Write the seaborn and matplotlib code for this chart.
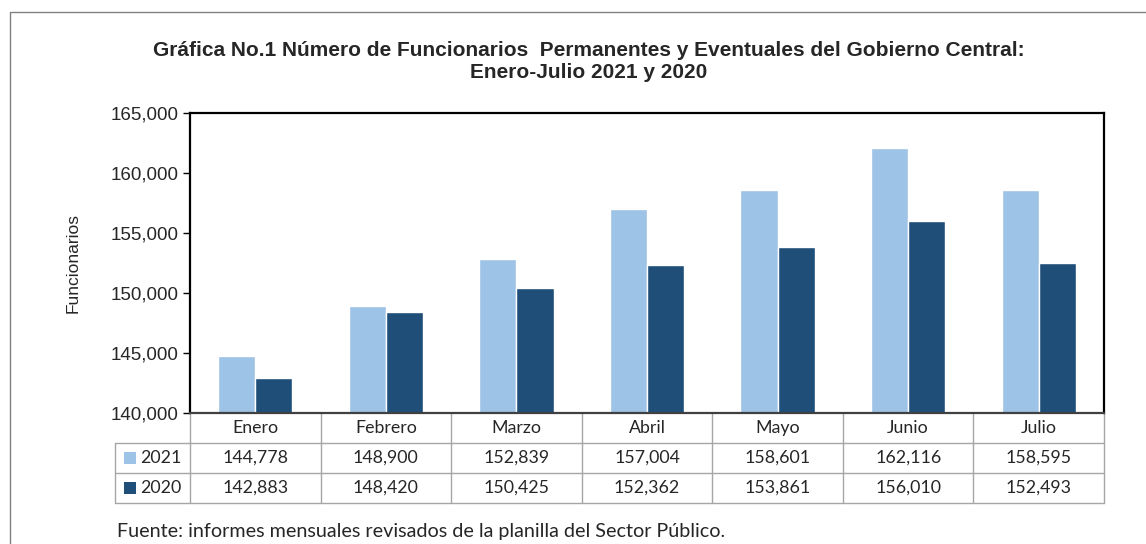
import pandas as pd
import numpy as np
import matplotlib
matplotlib.use("Agg")
import matplotlib.pyplot as plt
import matplotlib.transforms as mtransforms
from matplotlib.patches import Rectangle
import seaborn as sns

# Données
meses = ["Enero", "Febrero", "Marzo", "Abril", "Mayo", "Junio", "Julio"]
anios = ["2021", "2020"]
valores_2021 = [144778, 148900, 152839, 157004, 158601, 162116, 158595]
valores_2020 = [142883, 148420, 150425, 152362, 153861, 156010, 152493]
colores = ["#9DC3E6", "#1F4E79"]

data = pd.DataFrame({
    "mes": meses * 2,
    "anio": [anios[0]] * len(meses) + [anios[1]] * len(meses),
    "valor": valores_2021 + valores_2020,
})

sns.set_style("white")
plt.rcParams["font.family"] = ["Liberation Sans", "DejaVu Sans"]

fig = plt.figure(figsize=(11.46, 5.44), dpi=100)
ax = fig.add_axes([190 / 1146, 1 - 413 / 544, (1104 - 190) / 1146, (413 - 113) / 544])

sns.barplot(data=data, x="mes", y="valor", hue="anio", hue_order=anios,
            palette=colores, width=0.57, saturation=1, ax=ax, legend=False)

ax.set_ylim(140000, 165000)
ax.set_yticks(np.arange(140000, 165001, 5000))
ax.set_yticklabels([f"{v:,}" for v in range(140000, 165001, 5000)], fontsize=13.5)
ax.set_xlim(-0.5, len(meses) - 0.5)
ax.set_xticks([])
ax.set_xlabel("")
ax.set_ylabel("Funcionarios", fontsize=12.5, labelpad=22)
ax.tick_params(axis="y", length=5, width=1, color="black", left=True, pad=3)
for s in ax.spines.values():
    s.set_visible(True)
    s.set_color("black")
    s.set_linewidth(1.6)
ax.spines["bottom"].set_color("#404040")

# Tableau de données sous le graphique
trans = mtransforms.blended_transform_factory(ax.transData, ax.transAxes)
row_h = 30 / (413 - 113)
gris = "#A6A6A6"
fuente_tabla = ["Lato", "DejaVu Sans"]
n = len(meses)
x_left = -0.5 - 75 / 130.6
# lignes horizontales
for k in range(1, 4):
    y = -k * row_h
    ax.plot([x_left, n - 0.5], [y, y], transform=trans, color=gris, lw=1, clip_on=False)
# lignes verticales
for i in range(n + 1):
    ax.plot([i - 0.5, i - 0.5], [0, -3 * row_h], transform=trans, color=gris, lw=1, clip_on=False)
ax.plot([x_left, x_left], [-row_h, -3 * row_h], transform=trans, color=gris, lw=1, clip_on=False)

for i, m in enumerate(meses):
    ax.text(i, -0.5 * row_h, m, transform=trans, ha="center", va="center",
            fontsize=12.8, family=fuente_tabla)
    ax.text(i, -1.5 * row_h, f"{valores_2021[i]:,}", transform=trans, ha="center", va="center",
            fontsize=12.8, family=fuente_tabla)
    ax.text(i, -2.5 * row_h, f"{valores_2020[i]:,}", transform=trans, ha="center", va="center",
            fontsize=12.8, family=fuente_tabla)

for r, (anio, c) in enumerate(zip(anios, colores)):
    yc = -(1.5 + r) * row_h
    ax.add_patch(Rectangle((x_left + 0.07, yc - 0.019), 0.09, 0.038, transform=trans,
                           facecolor=c, edgecolor="none", clip_on=False))
    ax.text(x_left + 0.19, yc, anio, transform=trans, ha="left", va="center",
            fontsize=12.8, family=fuente_tabla)

# Titre et source
fig.text(589 / 1146, 1 - 50 / 544, "Gráfica No.1 Número de Funcionarios  Permanentes y Eventuales del Gobierno Central:",
         ha="center", va="center", fontsize=15, fontweight="bold")
fig.text(589 / 1146, 1 - 73 / 544, "Enero-Julio 2021 y 2020",
         ha="center", va="center", fontsize=15, fontweight="bold")
fig.text(117 / 1146, 1 - 532 / 544, "Fuente: informes mensuales revisados de la planilla del Sector Público.",
         ha="left", va="center", fontsize=14.2, family=fuente_tabla)

# Cadre extérieur
fig.patches.append(Rectangle((10 / 1146, -0.05), 1.2, 1 - 12 / 544 + 0.05, transform=fig.transFigure,
                             facecolor="none", edgecolor="#808080", lw=1))

fig.savefig("out.png", dpi=100)
